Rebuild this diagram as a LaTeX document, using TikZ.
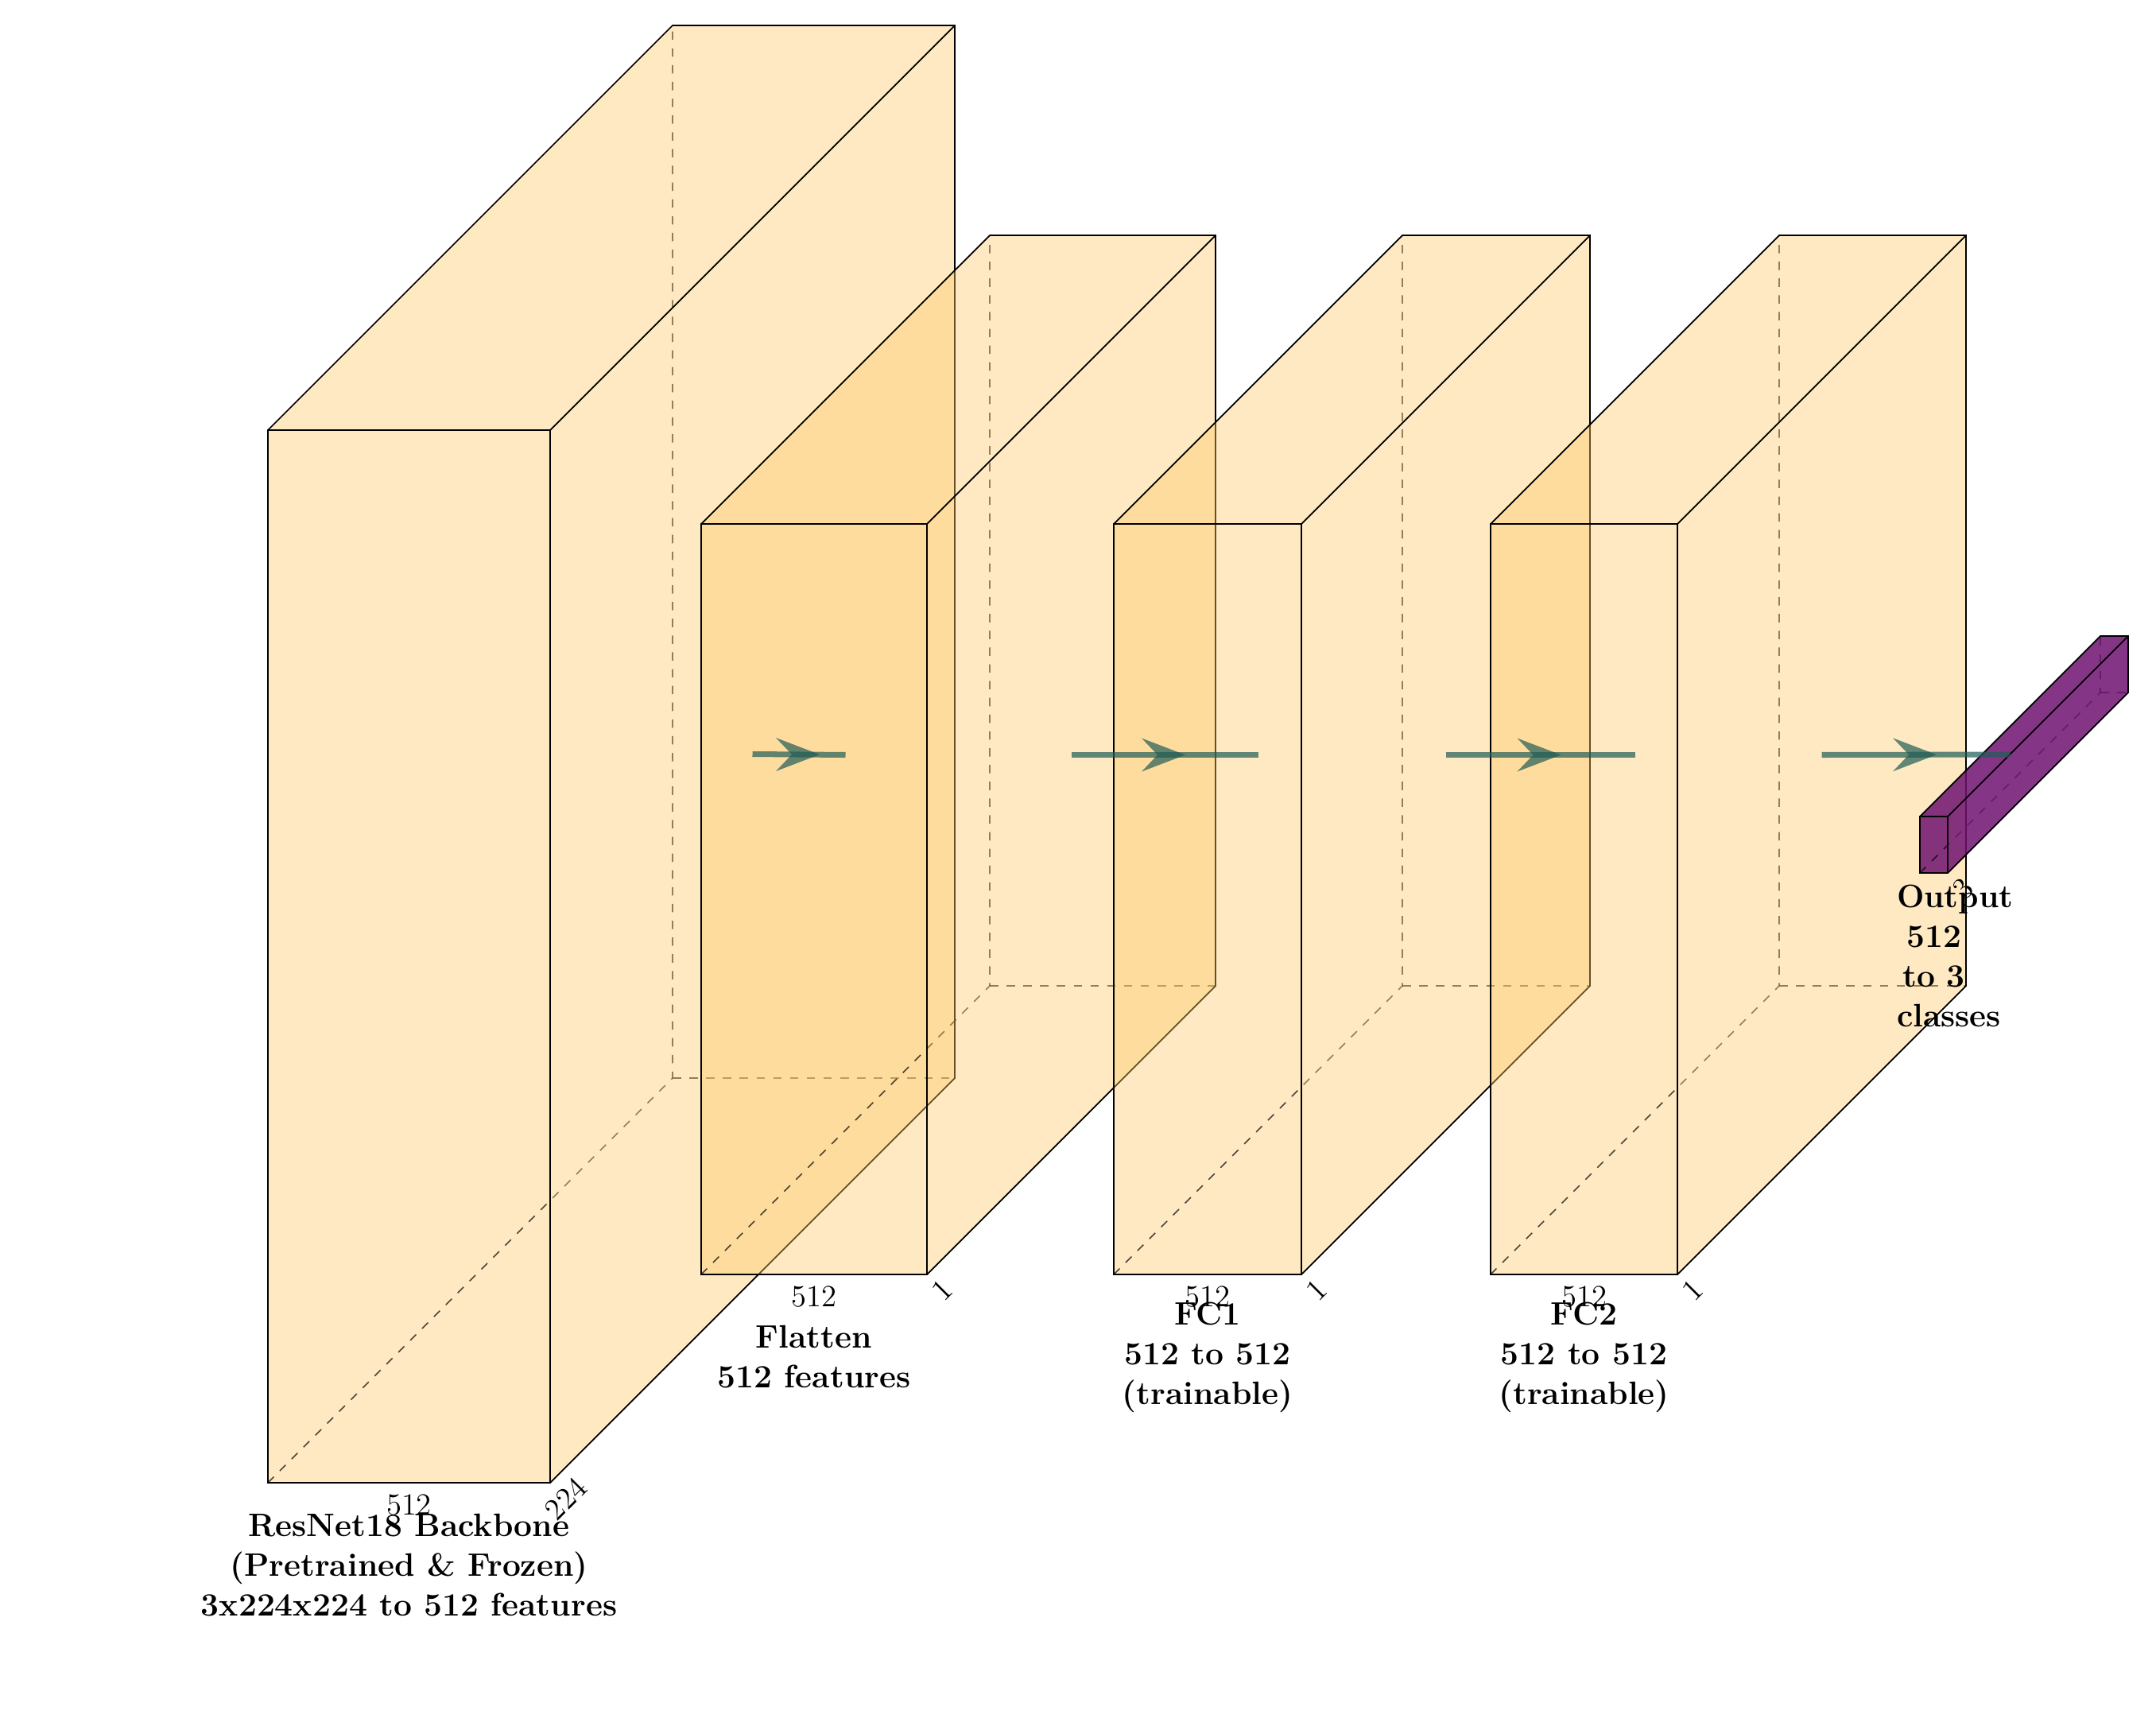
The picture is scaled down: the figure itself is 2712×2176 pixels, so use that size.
\documentclass[tikz,border=0pt]{standalone}
\usetikzlibrary{calc}
\definecolor{boxorange}{RGB}{254,202,104}
\definecolor{outpurple}{RGB}{112,18,112}
\definecolor{connteal}{RGB}{32,92,86}
\tikzset{
  orangeface/.style={fill=boxorange, fill opacity=0.4},
  purpleface/.style={fill=outpurple, fill opacity=0.85},
  edge/.style={draw=black, line width=0.5pt, line join=miter},
  hidden/.style={draw=black, draw opacity=0.7, line width=0.45pt, dashed},
  conn/.style={draw=connteal, draw opacity=0.7, line width=2pt},
  arrowhead/.style={fill=connteal, fill opacity=0.7},
  dimlabel/.style={font=\fontsize{11}{13}\selectfont, inner sep=4pt},
  caption/.style={font=\fontsize{11.6}{14.2}\selectfont\bfseries, align=center, anchor=center, inner sep=0pt}
}
% #1 name, #2 left x, #3 top y, #4 width, #5 height, #6 depth, #7 face style
\newcommand{\cuboid}[7]{%
  \coordinate (#1-ftl) at (#2,#3);
  \coordinate (#1-ftr) at (#2+#4,#3);
  \coordinate (#1-fbr) at (#2+#4,#3+#5);
  \coordinate (#1-fbl) at (#2,#3+#5);
  \coordinate (#1-btl) at (#2+#6,#3-#6);
  \coordinate (#1-btr) at (#2+#4+#6,#3-#6);
  \coordinate (#1-bbr) at (#2+#4+#6,#3+#5-#6);
  \coordinate (#1-bbl) at (#2+#6,#3+#5-#6);
  \coordinate (#1-east) at (#2+#4+#6/2,#3+#5/2-#6/2);
  \coordinate (#1-west) at (#2+#6/2,#3+#5/2-#6/2);
  \coordinate (#1-bot) at (#2+#4/2,#3+#5);
  \fill[#7] (#1-ftl) -- (#1-ftr) -- (#1-fbr) -- (#1-fbl) -- cycle;
  \draw[hidden] (#1-fbl) -- (#1-bbl) -- (#1-btl);
  \draw[hidden] (#1-bbl) -- (#1-bbr);
  \fill[#7] (#1-ftl) -- (#1-btl) -- (#1-btr) -- (#1-ftr) -- cycle;
  \fill[#7] (#1-ftr) -- (#1-btr) -- (#1-bbr) -- (#1-fbr) -- cycle;
  \draw[edge] (#1-ftl) -- (#1-ftr) -- (#1-fbr) -- (#1-fbl) -- cycle;
  \draw[edge] (#1-ftl) -- (#1-btl) -- (#1-btr) -- (#1-bbr) -- (#1-fbr);
  \draw[edge] (#1-ftr) -- (#1-btr);
}
\begin{document}
\begin{tikzpicture}[x=0.01cm, y=-0.01cm]
\fill[white] (0,0) rectangle (2712,2176);
\useasboundingbox (0,0) rectangle (2712,2176);

% ResNet18 backbone
\cuboid{b1}{337}{541}{355}{1324}{509}{orangeface}
\node[dimlabel, anchor=north] (b1w) at (b1-bot) {512};
\node[dimlabel, anchor=north, rotate=45] (b1d) at (b1-fbr) {224};
\node[caption] (cap1) at ($(b1-bot)+(0,104)$) {ResNet18 Backbone\\(Pretrained \& Frozen)\\3x224x224 to 512 features};

% Flatten
\cuboid{b2}{882}{659}{284}{944}{363}{orangeface}
\node[dimlabel, anchor=north] (b2w) at (b2-bot) {512};
\node[dimlabel, anchor=north, rotate=45] (b2d) at (b2-fbr) {1};
\node[caption] (cap2) at ($(b2-bot)+(0,104)$) {Flatten\\512 features};

% FC1
\cuboid{b3}{1401}{659}{236}{944}{363}{orangeface}
\node[dimlabel, anchor=north] (b3w) at (b3-bot) {512};
\node[dimlabel, anchor=north, rotate=45] (b3d) at (b3-fbr) {1};
\node[caption] (cap3) at ($(b3-bot)+(0,104)$) {FC1\\512 to 512\\(trainable)};

% FC2
\cuboid{b4}{1875}{659}{235}{944}{363}{orangeface}
\node[dimlabel, anchor=north] (b4w) at (b4-bot) {512};
\node[dimlabel, anchor=north, rotate=45] (b4d) at (b4-fbr) {1};
\node[caption] (cap4) at ($(b4-bot)+(0,104)$) {FC2\\512 to 512\\(trainable)};

% Output
\cuboid{b5}{2415}{1027}{35}{71}{227}{purpleface}
\node[dimlabel, anchor=north, rotate=45] (b5d) at (b5-fbr) {3};
\node[caption, text width=0.93cm] (cap5) at ($(b5-bot)+(0,104)$) {Output\\512\\to 3\\classes};

% connections
\foreach \a/\b/\m in {b1/b2/m1, b2/b3/m2, b3/b4/m3, b4/b5/m4}{
  \path (\a-east) -- coordinate[midway] (\m) (\b-west);
  \draw[conn] (\a-east) -- (\b-west);
  \fill[arrowhead, shift={(\m)}] (26,0) -- (-29,-21) -- (-9,0) -- (-29,21) -- cycle;
}
\end{tikzpicture}
\end{document}
